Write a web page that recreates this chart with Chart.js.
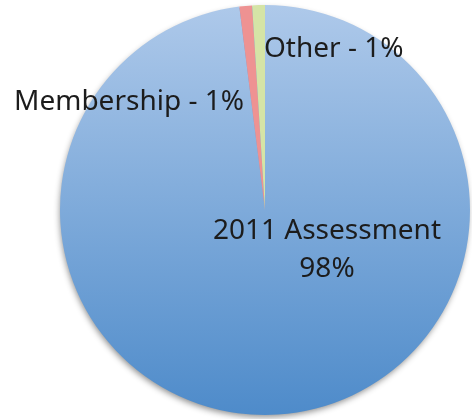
<!DOCTYPE html>
<html>
<head>
<meta charset="utf-8">
<script src="https://cdn.jsdelivr.net/npm/chart.js@4.4.0/dist/chart.umd.min.js"></script>
<style>
  html, body { margin: 0; padding: 0; background: #fff; }
  #wrap { width: 472px; height: 419px; }
</style>
</head>
<body>
<div id="wrap"><canvas id="mycanvas"></canvas></div>
<script>
var categories = ["2011 Assessment", "Membership", "Other"];
var shares = [98, 1, 1];
var labelText = ["2011 Assessment\n98%", "Membership - 1%", "Other - 1%"];
var flatColors = [null, "#ee9292", "#d5e4a6"];

function sliceFill(context) {
	var i = context.dataIndex;
	if (i !== 0) return flatColors[i];
	var chart = context.chart;
	var area = chart.chartArea;
	if (!area) return "#7aa6dc";
	var g = chart.ctx.createLinearGradient(0, area.top, 0, area.bottom);
	g.addColorStop(0, "#aec9ea");
	g.addColorStop(1, "#4e8bca");
	return g;
}

var shadowPlugin = {
	id: "shadow",
	beforeDatasetsDraw: function(chart) {
		var arc = chart.getDatasetMeta(0).data[0];
		var ctx = chart.ctx;
		ctx.save();
		ctx.shadowColor = "rgba(0,0,0,0.45)";
		ctx.shadowBlur = 6;
		ctx.shadowOffsetY = 3;
		ctx.shadowOffsetX = -1;
		ctx.fillStyle = "#6f9fd6";
		ctx.beginPath();
		ctx.arc(arc.x, arc.y, arc.outerRadius - 1, 0, Math.PI * 2);
		ctx.fill();
		ctx.restore();
	}
};

var labelPlugin = {
	id: "sliceLabels",
	afterDatasetsDraw: function(chart) {
		var arc = chart.getDatasetMeta(0).data[0];
		var cx = arc.x, cy = arc.y;
		var ctx = chart.ctx;
		ctx.save();
		ctx.fillStyle = "#1c1c1c";
		ctx.font = "28px 'Noto Sans'";
		ctx.textBaseline = "middle";
		// Assessment label inside the big slice
		ctx.textAlign = "center";
		var lines = labelText[0].split("\n");
		ctx.fillText(lines[0], cx + 62, cy + 21);
		ctx.fillText(lines[1], cx + 62, cy + 59);
		// Membership label, left of the top
		ctx.textAlign = "right";
		ctx.fillText(labelText[1], cx - 21, cy - 108);
		// Other label, right of the top
		ctx.textAlign = "left";
		ctx.fillText(labelText[2], cx - 1, cy - 161);
		ctx.restore();
	}
};

var ctx = document.getElementById("mycanvas");
var PieGraph = new Chart(ctx, {
	type: "pie",
	data: {
		labels: categories,
		datasets: [{
			data: shares,
			backgroundColor: sliceFill,
			borderWidth: 0
		}]
	},
	options: {
		responsive: true,
		maintainAspectRatio: false,
		animation: false,
		layout: { padding: { left: 60, right: 2, top: 5, bottom: 4 } },
		plugins: {
			legend: { display: false },
			tooltip: { enabled: false }
		}
	},
	plugins: [shadowPlugin, labelPlugin]
});
</script>
</body>
</html>
